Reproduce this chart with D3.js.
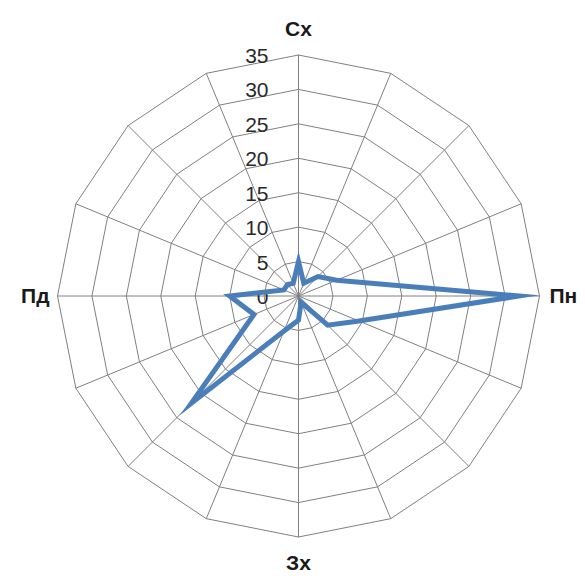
<!DOCTYPE html>
<html>
<head>
<meta charset="utf-8">
<script src="https://cdn.jsdelivr.net/npm/d3@7/dist/d3.min.js"></script>
<style>
  html, body { margin: 0; padding: 0; background: #fff; }
  svg { display: block; }
</style>
</head>
<body>
<svg id="chart" width="585" height="576"></svg>
<script>
// Directions (16 rhumbs, clockwise from top); only the four main ones are labelled
const categories = ["Сх", "", "", "", "Пн", "", "", "", "Зх", "", "", "", "Пд", "", "", ""];
const values = [5, 2, 4, 6, 32, 9.5, 6, 1, 3.5, 5.5, 22, 7, 10, 2.3, 2.3, 2];
const tickValues = [0, 5, 10, 15, 20, 25, 30, 35];

const width = 585, height = 576;
const cx = 298.5, cy = 296, R = 241;

const svg = d3.select("#chart");
const g = svg.append("g").attr("transform", `translate(${cx},${cy})`);

const idx = d3.range(categories.length);
const angle = d3.scaleBand().domain(idx).range([0, 2 * Math.PI]).paddingInner(0).paddingOuter(0).align(0);
const r = d3.scaleLinear().domain([0, 35]).range([0, R]);

const pt = (i, v) => {
  const a = angle(i);
  return [Math.sin(a) * r(v), -Math.cos(a) * r(v)];
};

// grid rings (polygons)
tickValues.filter(t => t > 0).forEach(t => {
  g.append("polygon")
    .attr("points", idx.map(i => pt(i, t).join(",")).join(" "))
    .attr("fill", "none")
    .attr("stroke", "#808080")
    .attr("stroke-width", 1);
});

// spokes
g.selectAll("line.spoke").data(idx).join("line")
  .attr("class", "spoke")
  .attr("x1", 0).attr("y1", 0)
  .attr("x2", i => pt(i, 35)[0])
  .attr("y2", i => pt(i, 35)[1])
  .attr("stroke", "#808080")
  .attr("stroke-width", 1);

// tick labels
g.selectAll("text.tick").data(tickValues).join("text")
  .attr("class", "tick")
  .attr("x", -30)
  .attr("y", d => -r(d) + 8)
  .attr("text-anchor", "end")
  .attr("font-family", "Liberation Sans, Arial, sans-serif")
  .attr("font-size", 21)
  .attr("fill", "#2a2a2a")
  .text(d => d);

// category labels
const labelOffset = { 0: [0, -26], 4: [10, 0], 8: [0, 26], 12: [-8, 0] };
idx.filter(i => categories[i]).forEach(i => {
  const [x, y] = pt(i, 35);
  const [dx, dy] = labelOffset[i];
  const a = angle(i);
  let anchor = "middle";
  if (Math.abs(Math.sin(a)) > 0.5) anchor = Math.sin(a) > 0 ? "start" : "end";
  g.append("text")
    .attr("x", x + dx)
    .attr("y", y + dy)
    .attr("dy", "0.35em")
    .attr("text-anchor", anchor)
    .attr("font-family", "Liberation Sans, Arial, sans-serif")
    .attr("font-weight", "bold")
    .attr("font-size", 21)
    .attr("fill", "#1a1a1a")
    .text(categories[i]);
});

// series line
const line = d3.lineRadial()
  .angle((d, i) => angle(i))
  .radius(d => r(d))
  .curve(d3.curveLinearClosed);

g.append("path")
  .datum(values)
  .attr("d", line)
  .attr("fill", "none")
  .attr("stroke", "#4a7ebb")
  .attr("stroke-width", 5)
  .attr("stroke-linejoin", "miter")
  .attr("stroke-miterlimit", 10);
</script>
</body>
</html>
